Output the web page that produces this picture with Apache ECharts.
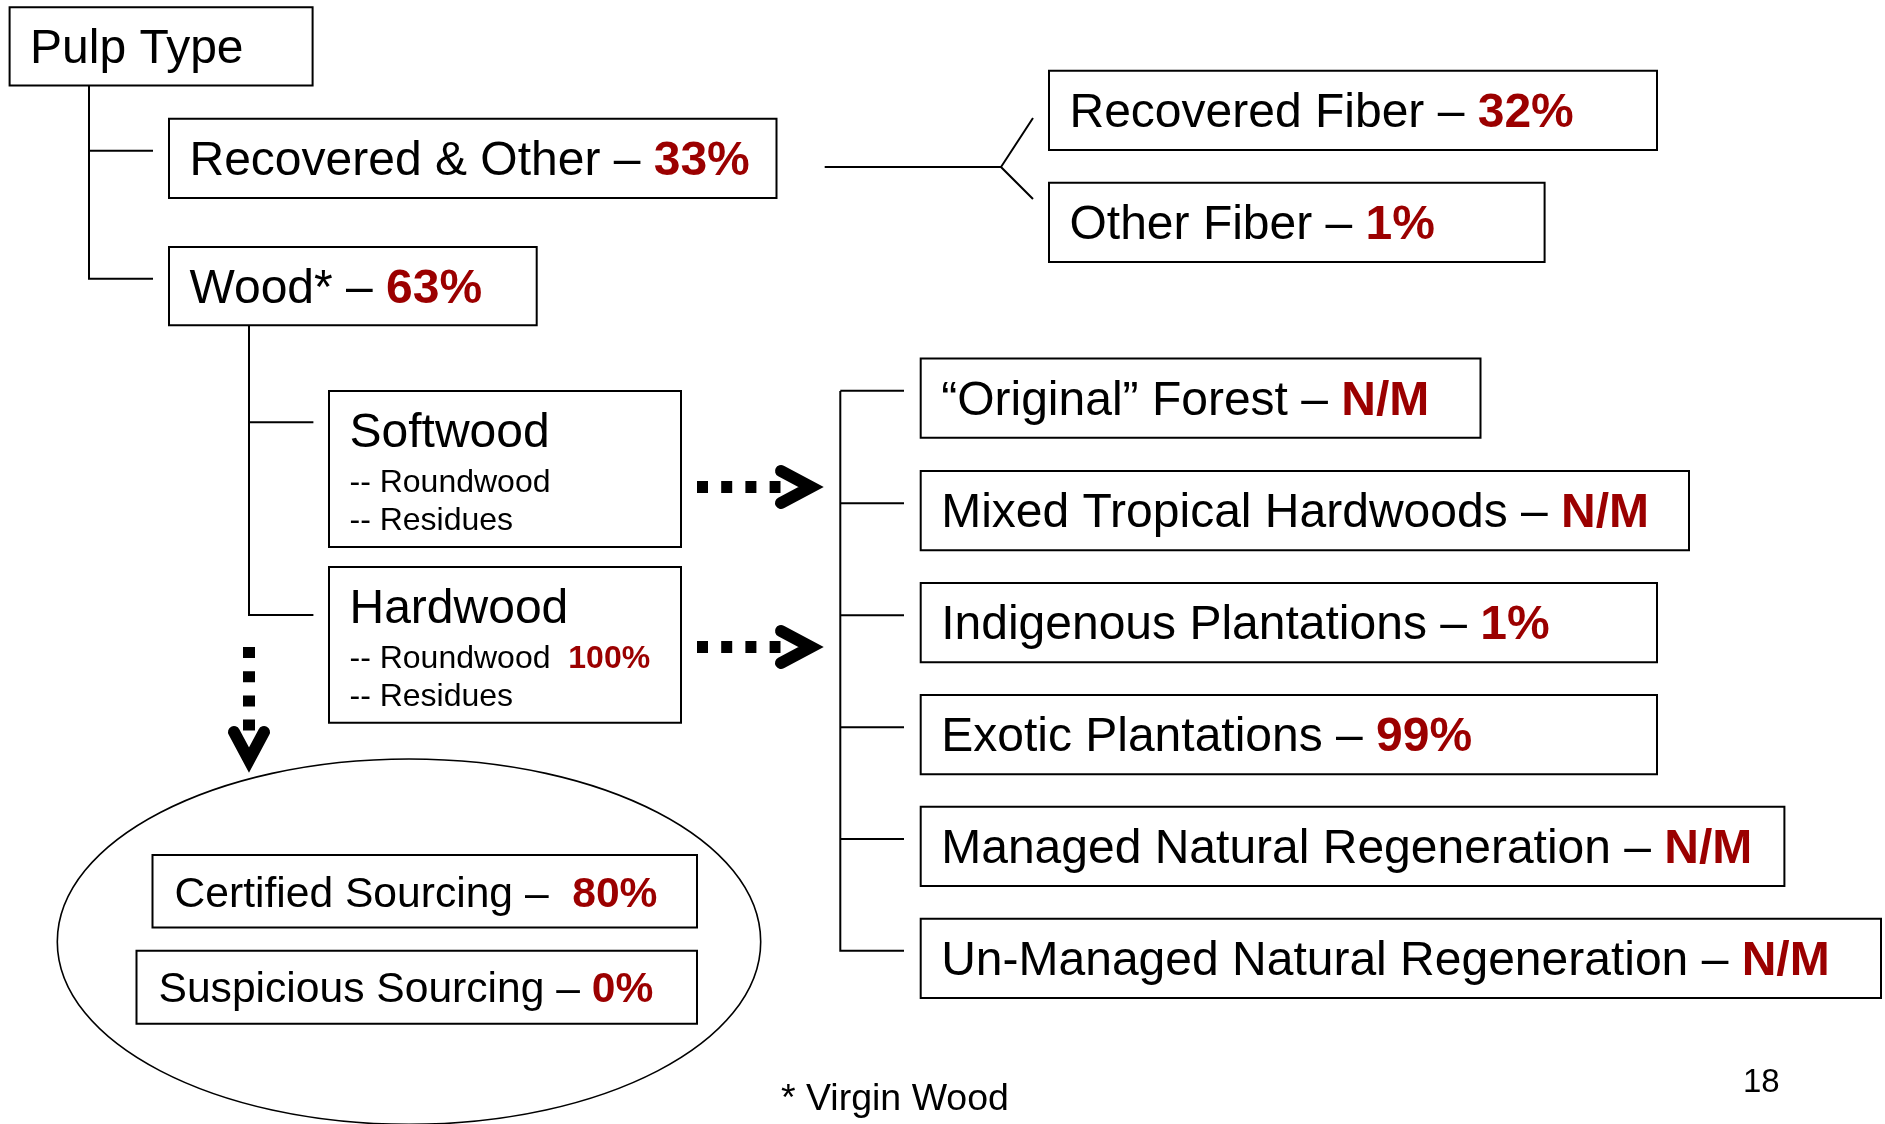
<!DOCTYPE html>
<html>
<head>
<meta charset="utf-8">
<script src="https://cdn.jsdelivr.net/npm/echarts@6/dist/echarts.min.js"></script>
<style>
html,body{margin:0;padding:0;background:#fff;}
#chart{width:1885px;height:1124px;}
</style>
</head>
<body>
<div id="chart"></div>
<script>
// ---------------- DATA ----------------
const rootLabel = 'Pulp Type';
const pulpLabels = ['Recovered & Other', 'Wood*'];
const pulpValues = ['33%', '63%'];
const recoveredLabels = ['Recovered Fiber', 'Other Fiber'];
const recoveredValues = ['32%', '1%'];
const woodLabels = ['Softwood', 'Hardwood'];
const woodSubLabels = ['Roundwood', 'Residues'];
const softwoodSubValues = ['', ''];
const hardwoodSubValues = ['100%', ''];
const forestLabels = ['\u201COriginal\u201D Forest', 'Mixed Tropical Hardwoods', 'Indigenous Plantations',
                      'Exotic Plantations', 'Managed Natural Regeneration', 'Un-Managed Natural Regeneration'];
const forestValues = ['N/M', 'N/M', '1%', '99%', 'N/M', 'N/M'];
const sourcingLabels = ['Certified Sourcing', 'Suspicious Sourcing'];
const sourcingSeparators = [' \u2013  ', ' \u2013 '];
const sourcingValues = ['80%', '0%'];
const footnote = '* Virgin Wood';
const pageNumber = '18';

// ---------------- LAYOUT (diagram units = pixels) ----------------
const W = 1885, H = 1124;
const RED = '#9b0000';
const FONT = '"Liberation Sans", Arial, Helvetica, sans-serif';
const DASH = ' \u2013 ';

const rootBox = [9.6, 7.2, 303, 78.2];
const pulpBoxes = [[169, 118.7, 607.5, 79.3], [169, 247, 367.7, 78.3]];
const recoveredBoxes = [[1049, 70.8, 608, 79.3], [1049, 182.7, 495.6, 79.3]];
const woodBoxes = [[329, 391, 352, 156], [329, 567, 352, 155.7]];
const forestTops = [358.5, 471, 583, 695, 806.7, 918.7];
const forestWidths = [559.8, 768.3, 736.3, 736.3, 863.7, 960.3];
const forestLeft = 920.7, forestH = 79.3;
const sourcingBoxes = [[152.5, 855, 544.5, 72.5], [136.5, 950.7, 560.5, 73]];
const ellipseGeom = {cx: 409, cy: 941.7, rx: 351.7, ry: 182.7};
const textPad = 20.5, textPadSmall = 22, textDrop = 3.5;

// connectors
const connectors = [
  [[89, 85.4], [89, 278.7], [153, 278.7]],
  [[89, 150.7], [153, 150.7]],
  [[824.7, 167], [1001, 167]],
  [[1033, 118], [1001, 167], [1033, 199]],
  [[249, 325.3], [249, 615], [313.4, 615]],
  [[249, 422.3], [313.4, 422.3]],
  [[840.3, 391], [840.3, 950.7], [904, 950.7]]
];
forestTops.slice(0, 5).forEach(t => connectors.push([[840.3, t + 32.3], [904, t + 32.3]]));

// dotted arrows: dashed shaft + chevron head
const arrows = [
  {shaft: [[697, 487], [780.5, 487]], head: [[781, 471], [811, 487], [781, 503]]},
  {shaft: [[697, 647], [780.5, 647]], head: [[781, 631], [811, 647], [781, 663]]},
  {shaft: [[249, 647], [249, 730.5]], head: [[234, 732], [249, 760], [264, 732]]}
];

// ---------------- BUILD NODES ----------------
function line(dy, fs, label, value, pad) { return {dy, fs, label, value, pad: pad || textPad}; }
const nodes = [];
nodes.push({rect: rootBox, lines: [line(rootBox[3] / 2, 48, rootLabel, '')]});
pulpLabels.forEach((l, i) => nodes.push({rect: pulpBoxes[i], lines: [line(pulpBoxes[i][3] / 2, 48, l + DASH, pulpValues[i])]}));
recoveredLabels.forEach((l, i) => nodes.push({rect: recoveredBoxes[i], lines: [line(recoveredBoxes[i][3] / 2, 48, l + DASH, recoveredValues[i])]}));
woodLabels.forEach((l, i) => {
  const vals = i === 0 ? softwoodSubValues : hardwoodSubValues;
  const lines = [line(39.3, 48, l, '')];
  woodSubLabels.forEach((s, j) => lines.push(line(j === 0 ? 88.3 : 126.5, 32, '-- ' + s + (vals[j] ? '  ' : ''), vals[j])));
  nodes.push({rect: woodBoxes[i], lines});
});
forestLabels.forEach((l, i) => nodes.push({rect: [forestLeft, forestTops[i], forestWidths[i], forestH],
  lines: [line(forestH / 2, 48, l + DASH, forestValues[i])]}));
sourcingLabels.forEach((l, i) => nodes.push({rect: sourcingBoxes[i],
  lines: [line(sourcingBoxes[i][3] / 2, 42.6, l + sourcingSeparators[i], sourcingValues[i], textPadSmall)]}));

const notes = [
  {pos: [781, 1099.5], fs: 37.5, text: footnote},
  {pos: [1743, 1082.5], fs: 33, text: pageNumber}
];

// ---------------- RENDER ----------------
function pts(api, arr) { return arr.map(p => api.coord(p)); }

const chart = echarts.init(document.getElementById('chart'), null, {renderer: 'canvas'});
const option = {
  animation: false,
  backgroundColor: '#ffffff',
  grid: {left: 0, right: 0, top: 0, bottom: 0},
  xAxis: {type: 'value', min: 0, max: W, show: false},
  yAxis: {type: 'value', min: 0, max: H, inverse: true, show: false},
  series: [
    {
      type: 'custom', name: 'ellipse', silent: true,
      data: [[ellipseGeom.cx, ellipseGeom.cy]],
      renderItem(params, api) {
        const c = api.coord([api.value(0), api.value(1)]);
        const e = api.coord([ellipseGeom.cx + ellipseGeom.rx, ellipseGeom.cy + ellipseGeom.ry]);
        return {type: 'ellipse', shape: {cx: c[0], cy: c[1], rx: e[0] - c[0], ry: e[1] - c[1]},
          style: {fill: '#fff', stroke: '#000', lineWidth: 1.6}};
      }
    },
    {
      type: 'custom', name: 'connectors', silent: true,
      data: connectors.map(c => c[0]),
      renderItem(params, api) {
        return {type: 'polyline', shape: {points: pts(api, connectors[params.dataIndex])},
          style: {fill: null, stroke: '#000', lineWidth: 2}};
      }
    },
    {
      type: 'custom', name: 'arrows', silent: true,
      data: arrows.map(a => a.shaft[0]),
      renderItem(params, api) {
        const a = arrows[params.dataIndex];
        return {type: 'group', children: [
          {type: 'polyline', shape: {points: pts(api, a.shaft)},
            style: {fill: null, stroke: '#000', lineWidth: 12, lineDash: [11, 13.2], lineCap: 'butt'}},
          {type: 'polyline', shape: {points: pts(api, a.head)},
            style: {fill: null, stroke: '#000', lineWidth: 12, lineCap: 'round', lineJoin: 'miter', miterLimit: 10}}
        ]};
      }
    },
    {
      type: 'custom', name: 'boxes', silent: true,
      data: nodes.map(n => [n.rect[0], n.rect[1]]),
      renderItem(params, api) {
        const n = nodes[params.dataIndex];
        const r = n.rect;
        const p0 = api.coord([r[0], r[1]]);
        const p1 = api.coord([r[0] + r[2], r[1] + r[3]]);
        const children = [{type: 'rect', shape: {x: p0[0], y: p0[1], width: p1[0] - p0[0], height: p1[1] - p0[1]},
          style: {fill: '#fff', stroke: '#000', lineWidth: 2}}];
        n.lines.forEach(l => {
          const tp = api.coord([r[0] + l.pad, r[1] + l.dy + textDrop]);
          children.push({type: 'text', x: tp[0], y: tp[1], style: {
            text: '{n|' + l.label + '}' + (l.value ? '{v|' + l.value + '}' : ''),
            fontSize: l.fs, fontFamily: FONT, fill: '#000', align: 'left', verticalAlign: 'middle',
            rich: {
              n: {fontSize: l.fs, fontFamily: FONT, fill: '#000'},
              v: {fontSize: l.fs, fontFamily: FONT, fontWeight: 'bold', fill: RED}
            }
          }});
        });
        return {type: 'group', children};
      }
    },
    {
      type: 'custom', name: 'notes', silent: true,
      data: notes.map(n => n.pos),
      renderItem(params, api) {
        const n = notes[params.dataIndex];
        const p = api.coord(n.pos);
        return {type: 'text', x: p[0], y: p[1], style: {text: n.text, fontSize: n.fs, fontFamily: FONT,
          fill: '#000', align: 'left', verticalAlign: 'middle'}};
      }
    }
  ]
};
chart.setOption(option);
</script>
</body>
</html>
